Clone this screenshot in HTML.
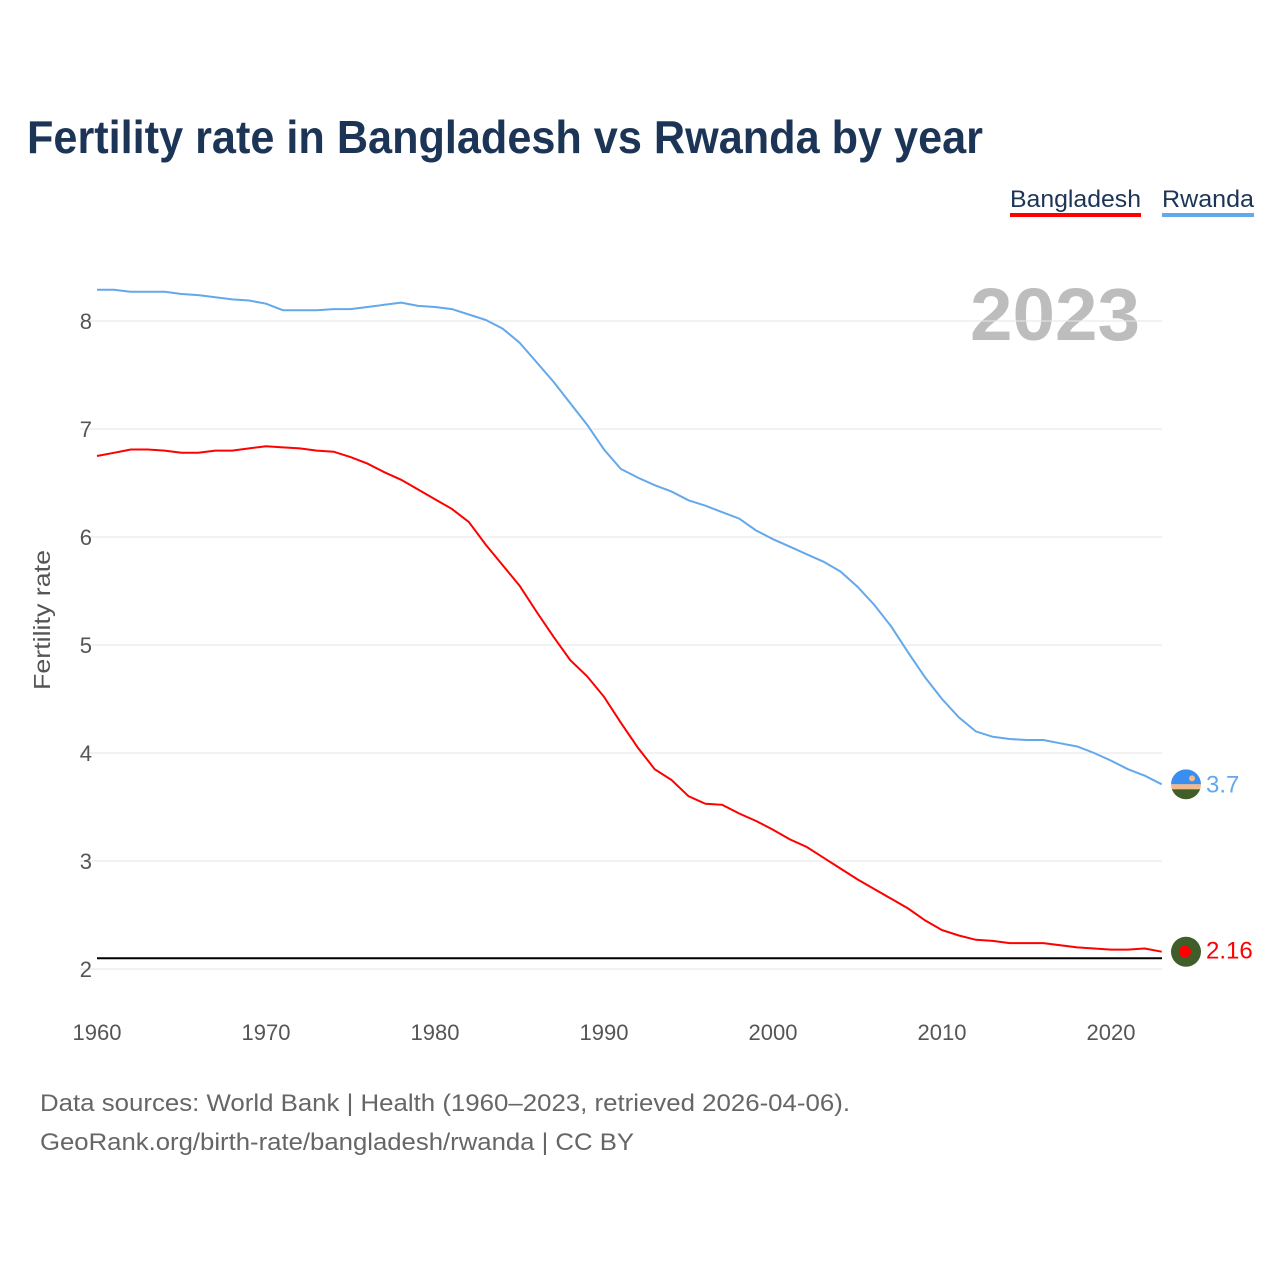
<!DOCTYPE html>
<html><head><meta charset="utf-8"><style>
body{margin:0;background:#fff;font-family:"Liberation Sans",sans-serif}
svg{display:block}
</style></head><body>
<svg id="chart" width="1280" height="1280">
<text x="27" y="153" font-size="46" font-weight="bold" fill="#1c3557" textLength="956" lengthAdjust="spacingAndGlyphs">Fertility rate in Bangladesh vs Rwanda by year</text>
<g>
<text x="1010" y="207" font-size="24" fill="#1c3557" textLength="131" lengthAdjust="spacingAndGlyphs">Bangladesh</text>
<rect x="1010" y="213" width="131" height="4" fill="#ff0000"/>
<text x="1162" y="207" font-size="24" fill="#1c3557" textLength="92" lengthAdjust="spacingAndGlyphs">Rwanda</text>
<rect x="1162" y="213" width="92" height="4" fill="#64a8ec"/>
</g>
<text x="1140" y="340" font-size="74" font-weight="bold" fill="#bdbdbd" text-anchor="end" textLength="170" lengthAdjust="spacingAndGlyphs">2023</text>
<text transform="translate(50,620) rotate(-90)" font-size="23" fill="#555" text-anchor="middle" textLength="140" lengthAdjust="spacingAndGlyphs">Fertility rate</text>
<g id="grid"></g><g id="series"></g>
<text x="40" y="1111" font-size="24" fill="#666" textLength="810" lengthAdjust="spacingAndGlyphs">Data sources: World Bank | Health (1960–2023, retrieved 2026-04-06).</text>
<text x="40" y="1150" font-size="24" fill="#666" textLength="594" lengthAdjust="spacingAndGlyphs">GeoRank.org/birth-rate/bangladesh/rwanda | CC BY</text>
</svg>
<script>
const years=[];for(let y=1960;y<=2023;y++)years.push(y);
const rwanda=[8.29,8.29,8.27,8.27,8.27,8.25,8.24,8.22,8.20,8.19,8.16,8.10,8.10,8.10,8.11,8.11,8.13,8.15,8.17,8.14,8.13,8.11,8.06,8.01,7.93,7.80,7.62,7.44,7.24,7.04,6.81,6.63,6.55,6.48,6.42,6.34,6.29,6.23,6.17,6.06,5.98,5.91,5.84,5.77,5.68,5.54,5.37,5.17,4.93,4.70,4.50,4.33,4.20,4.15,4.13,4.12,4.12,4.09,4.06,4.00,3.93,3.85,3.79,3.71];
const bangladesh=[6.75,6.78,6.81,6.81,6.80,6.78,6.78,6.80,6.80,6.82,6.84,6.83,6.82,6.80,6.79,6.74,6.68,6.60,6.53,6.44,6.35,6.26,6.14,5.93,5.74,5.55,5.31,5.08,4.86,4.71,4.52,4.28,4.05,3.85,3.75,3.60,3.53,3.52,3.44,3.37,3.29,3.20,3.13,3.03,2.93,2.83,2.74,2.65,2.56,2.45,2.36,2.31,2.27,2.26,2.24,2.24,2.24,2.22,2.20,2.19,2.18,2.18,2.19,2.16];
const yTicks=[2,3,4,5,6,7,8];
const xTicks=[1960,1970,1980,1990,2000,2010,2020];
const replacement=2.1;
const X=y=>97+(y-1960)*1014/60, Y=v=>969-(v-2)*108;
const NS='http://www.w3.org/2000/svg';
function mk(t,a,p){const e=document.createElementNS(NS,t);for(const k in a)e.setAttribute(k,a[k]);p.appendChild(e);return e;}
const g=document.getElementById('grid'),s=document.getElementById('series');
yTicks.forEach(v=>{
 const l=mk('line',{x1:80,x2:1162,y1:Y(v),y2:Y(v),stroke:'#e6e6e6'},g);
 
 
 const t=mk('text',{x:92,y:Y(v)+8,'font-size':22,fill:'#555','text-anchor':'end'},g);t.textContent=v;
 
 
});
xTicks.forEach(v=>{
 const t=mk('text',{x:X(v),y:1040,'font-size':22,fill:'#555','text-anchor':'middle'},g);t.textContent=v;
 
 
});
const rl=mk('line',{x1:97,x2:1162,y1:Y(replacement),y2:Y(replacement),stroke:'#000','stroke-width':2},g);


function line(vals,col,name){
 const p=mk('path',{d:vals.map((v,i)=>(i?'L':'M')+X(years[i]).toFixed(1)+','+Y(v).toFixed(1)).join(''),fill:'none',stroke:col,'stroke-width':2},s);
 
 
}
line(rwanda,'#64a8ec','rwanda-line');
line(bangladesh,'#ff0000','bangladesh-line');
const ry=Y(rwanda[rwanda.length-1]),by=Y(bangladesh[bangladesh.length-1]);
const f1=mk('g',{},s);


mk('clipPath',{id:'c1'},f1).appendChild(document.createElementNS(NS,'circle')).setAttribute('cx',1186);
const c1=f1.querySelector('circle');c1.setAttribute('cy',ry);c1.setAttribute('r',15);
mk('rect',{x:1171,y:ry-15,width:30,height:15,fill:'#3a8ef0','clip-path':'url(#c1)'},f1);
mk('rect',{x:1171,y:ry,width:30,height:7,fill:'#f4b88a','clip-path':'url(#c1)'},f1);
mk('rect',{x:1171,y:ry+5,width:30,height:10,fill:'#3f5e2a','clip-path':'url(#c1)'},f1);
mk('circle',{cx:1192,cy:ry-6,r:3,fill:'#f4b88a'},f1);
const f2=mk('g',{},s);


mk('circle',{cx:1186,cy:by,r:15,fill:'#3f5e2a'},f2);
mk('circle',{cx:1185,cy:by,r:6,fill:'#ff0000'},f2);
const t1=mk('text',{x:1206,y:ry+8,'font-size':24,fill:'#64a8ec'},s);t1.textContent=rwanda[rwanda.length-1].toFixed(1);


const t2=mk('text',{x:1206,y:by+7,'font-size':24,fill:'#ff0000'},s);t2.textContent=bangladesh[bangladesh.length-1];


</script>
</body></html>
